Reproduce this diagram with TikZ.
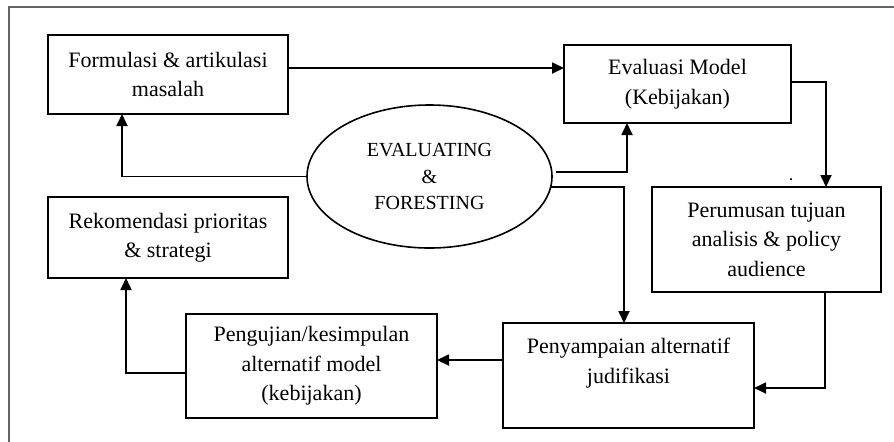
\documentclass[tikz,border=0pt]{standalone}
\usepackage{fontspec}
\setmainfont{Liberation Serif}
\usetikzlibrary{shapes.geometric,arrows.meta}
\begin{document}
\begin{tikzpicture}[x=0.5pt, y=-0.5pt,
    box/.style={draw, rectangle, line width=0.8pt, align=center, inner sep=0pt, outer sep=0pt, font=\fontsize{11}{14.7}\selectfont},
    arr/.style={line width=0.9pt, -{Triangle[length=6pt,width=5.5pt]}}]

    \useasboundingbox (0,0) rectangle (894,441);
    \clip (0,0) rectangle (894,441);
    \draw[line width=0.65pt, black!60] (9,7) rectangle (920,470);

    % Nodes
    \node[box, minimum width=120pt, minimum height=39.5pt] (form) at (168,74.5) {Formulasi \& artikulasi\\masalah};
    \node[box, minimum width=113.5pt, minimum height=39pt] (evalm) at (677.5,84) {Evaluasi Model\\(Kebijakan)};
    \node[draw, ellipse, line width=0.8pt, inner sep=0pt, outer sep=0pt, minimum width=122.5pt, minimum height=71.5pt, align=center, font=\fontsize{10}{13.25}\selectfont] (eval) at (429.5,176.5) {EVALUATING\\\&\\FORESTING};
    \node[box, minimum width=114.5pt, minimum height=52.5pt] (rumus) at (766.5,239.5) {Perumusan tujuan\\analisis \& policy\\audience};
    \node[box, minimum width=125.5pt, minimum height=52.5pt] (saji) at (628.5,375.5) {Penyampaian alternatif\\judifikasi\\~};
    \node[box, minimum width=125.5pt, minimum height=52pt] (uji) at (311.5,366) {Pengujian/kesimpulan\\alternatif model\\(kebijakan)};
    \node[box, minimum width=120pt, minimum height=40.5pt] (rekom) at (168,237.5) {Rekomendasi prioritas\\\& strategi};
    \node[inner sep=0pt, font=\small] (titik) at (791,180) {.};

    % Arrows
    \draw[arr] ([yshift=3.25pt]form.east) coordinate (f1) -- (f1 -| evalm.west);
    \draw[arr] (eval.west) -| ([xshift=-23pt]form.south);
    \draw[arr] ([shift={(2pt,2.25pt)}]eval.east) -| ([xshift=-25.25pt]evalm.south);
    \draw[arr] (eval.-5) -| ([xshift=-2.25pt]saji.north);
    \draw[arr] ([yshift=1pt]evalm.east) -| ([xshift=29.75pt]rumus.north);
    \draw[arr] ([xshift=29.25pt]rumus.south) |- ([yshift=-6.25pt]saji.east);
    \draw[arr] ([yshift=7.75pt]saji.west) coordinate (s1) -- (s1 -| uji.east);
    \draw[arr] ([yshift=-3.5pt]uji.west) -| ([xshift=-21pt]rekom.south);

\end{tikzpicture}
\end{document}
